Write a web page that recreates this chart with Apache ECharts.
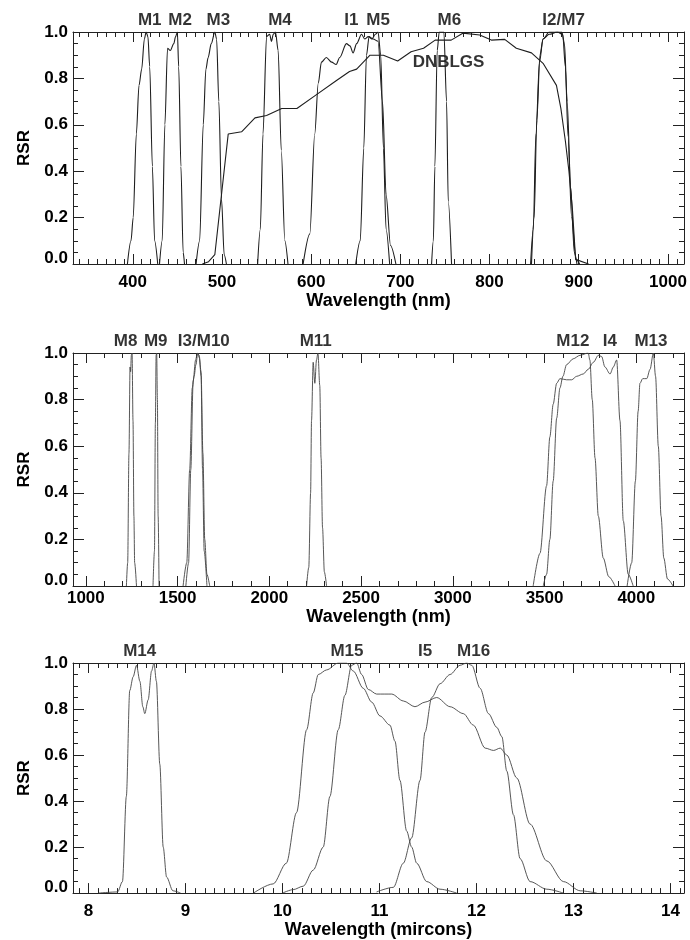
<!DOCTYPE html>
<html><head><meta charset="utf-8">
<script src="https://cdn.jsdelivr.net/npm/echarts@6/dist/echarts.min.js"></script>
<style>html,body{margin:0;padding:0;background:#fff}#c{width:690px;height:940px}</style>
</head><body><div id="c"></div>
<script>
// ---------- Panel 1 (nm) ----------
const P1_RANGE = [333, 1018];
const P1_TICKS = [400, 500, 600, 700, 800, 900, 1000];
const M1 = [[394,0],[398,0.1],[400.5,0.2],[404,0.56],[407,0.77],[410,0.84],[413,0.97],[415,1.0],[417,0.98],[419,0.85],[422,0.42],[424.5,0.1],[428,0]];
const M2 = [[430,0],[433,0.1],[436,0.6],[439,0.93],[442,0.92],[446,0.95],[448,0.98],[450,1.0],[451.5,0.85],[454,0.42],[456.5,0.05],[458,0]];
const M3 = [[471,0],[475,0.1],[479,0.6],[482,0.84],[484.5,0.89],[488,0.95],[492,1.0],[494,0.97],[496.5,0.7],[499.5,0.28],[502.5,0.04],[505,0]];
const M4 = [[540,0],[543,0.15],[546,0.56],[550,0.98],[553.5,0.99],[555.5,0.96],[557.5,0.99],[560,1.0],[563,0.92],[566.5,0.49],[570.5,0.1],[574,0]];
const I1 = [[591,0],[598.5,0.13],[604,0.56],[608,0.78],[611.5,0.87],[617,0.89],[623,0.87],[628,0.86],[632,0.89],[639.5,0.95],[643.5,0.94],[647,0.91],[651,0.95],[656.5,0.99],[660,0.97],[664,0.98],[669.5,0.97],[675,0.96],[680,0.7],[684,0.3],[689,0.08],[695,0]];
const M5 = [[650,0],[655,0.1],[659,0.5],[662,0.9],[665,0.98],[668,0.97],[672,0.99],[675,1.0],[678,0.9],[681,0.5],[684,0.15],[688,0]];
const M6 = [[735,0],[737,0.1],[738.7,0.42],[741.3,0.92],[743.6,1.0],[746,1.0],[748.8,1.0],[751.8,0.7],[753.7,0.27],[757.4,0]];
const I2 = [[846,0],[849,0.15],[852,0.56],[856,0.87],[860,0.97],[867,1.0],[875,1.0],[881,1.0],[884,0.95],[887,0.7],[891,0.33],[895,0.05],[898,0]];
const M7 = [[847,0],[850,0.2],[853,0.62],[856.5,0.9],[860,0.97],[867,0.99],[876,1.0],[882,0.99],[885,0.85],[888,0.55],[892,0.2],[897,0.02],[901,0]];
const DNB = [[478,0],[485,0.01],[492,0.04],[507,0.56],[522,0.57],[537,0.63],[550,0.64],[567,0.67],[584,0.67],[606,0.73],[628,0.79],[643,0.83],[651,0.84],[666,0.9],[681,0.9],[697,0.875],[712,0.915],[726,0.93],[739,0.965],[757,0.965],[770,0.995],[789,0.987],[802,0.965],[817,0.968],[830,0.93],[847,0.91],[860,0.865],[875,0.77],[880,0.67],[885,0.53],[889,0.4],[893,0.23],[896.5,0.02],[911,0]];
const P1_LABELS = ['M1','M2','M3','M4','I1','M5','M6','I2/M7'];
const P1_LABEL_X = [419, 453, 496, 565, 645, 675, 755, 883];
const DNB_LABEL = {name: 'DNBLGS', x: 754, y: 0.87};

// ---------- Panel 2 (nm) ----------
const P2_RANGE = [930, 4260];
const P2_TICKS = [1000, 1500, 2000, 2500, 3000, 3500, 4000];
const M8 = [[1221,0],[1228,0.1],[1235,0.57],[1241,0.94],[1244,0.92],[1248,0.99],[1252,1.0],[1257,0.71],[1262,0.3],[1266,0.1],[1276,0]];
const M9 = [[1366,0],[1374,0.15],[1379,0.7],[1383,0.99],[1386,1.0],[1390,0.8],[1394,0.3],[1399,0]];
const I3 = [[1530,0],[1550,0.1],[1566,0.5],[1580,0.85],[1590,0.9],[1600,0.95],[1610,1.0],[1618,0.98],[1628,0.92],[1638,0.57],[1648,0.2],[1660,0.05],[1675,0]];
const M10 = [[1545,0],[1560,0.1],[1572,0.5],[1585,0.88],[1598,0.97],[1608,1.0],[1618,0.99],[1628,0.9],[1636,0.5],[1645,0.15],[1660,0]];
const M11 = [[2203,0],[2215,0.08],[2225,0.4],[2230,0.71],[2239,0.96],[2248,0.87],[2257,0.97],[2265,1.0],[2275,0.86],[2282,0.55],[2290,0.25],[2300,0.06],[2312,0]];
const M12 = [[3493,0],[3511,0.05],[3529,0.2],[3547,0.45],[3566,0.72],[3584,0.85],[3600,0.9],[3620,0.95],[3656,0.975],[3693,0.99],[3738,1.0],[3747,0.97],[3760,0.8],[3775,0.55],[3793,0.3],[3820,0.12],[3850,0.04],[3884,0]];
const I4 = [[3438,0],[3475,0.14],[3511,0.43],[3529,0.64],[3547,0.78],[3566,0.87],[3584,0.89],[3620,0.885],[3648,0.885],[3675,0.9],[3711,0.91],[3738,0.93],[3766,0.96],[3793,0.99],[3811,0.985],[3829,0.94],[3857,0.91],[3875,0.94],[3893,0.97],[3911,0.71],[3929,0.28],[3956,0.05],[3983,0]];
const M13 = [[3950,0],[3975,0.1],[3995,0.45],[4010,0.75],[4020,0.87],[4035,0.89],[4057,0.89],[4075,0.93],[4093,1.0],[4105,0.9],[4120,0.6],[4135,0.3],[4150,0.12],[4170,0.03],[4200,0]];
const P2_LABELS = ['M8','M9','I3/M10','M11','M12','I4','M13'];
const P2_LABEL_X = [1217, 1381, 1643, 2253, 3654, 3856, 4080];

// ---------- Panel 3 (microns) ----------
const P3_RANGE = [7.84, 14.14];
const P3_TICKS = [8, 9, 10, 11, 12, 13, 14];
const M14 = [[8.1,0],[8.3,0.005],[8.35,0.05],[8.39,0.42],[8.425,0.88],[8.46,0.94],[8.495,0.99],[8.53,0.92],[8.56,0.81],[8.58,0.78],[8.615,0.84],[8.65,0.965],[8.675,1.0],[8.7,0.92],[8.735,0.56],[8.77,0.2],[8.805,0.07],[8.87,0.01],[8.95,0]];
const M15 = [[9.7,0],[9.904,0.04],[10.04,0.13],[10.145,0.35],[10.249,0.71],[10.317,0.87],[10.369,0.95],[10.455,0.97],[10.575,1.0],[10.661,1.0],[10.73,0.965],[10.833,0.89],[10.92,0.83],[11.005,0.77],[11.108,0.73],[11.16,0.66],[11.211,0.49],[11.28,0.27],[11.332,0.2],[11.384,0.13],[11.487,0.05],[11.624,0.017],[11.797,0]];
const I5 = [[10.0,0],[10.11,0.015],[10.214,0.03],[10.317,0.1],[10.42,0.2],[10.489,0.42],[10.575,0.71],[10.644,0.86],[10.713,0.99],[10.765,1.0],[10.816,0.95],[10.885,0.885],[10.971,0.865],[11.126,0.865],[11.246,0.835],[11.366,0.81],[11.47,0.83],[11.59,0.85],[11.728,0.81],[11.865,0.78],[11.968,0.73],[12.09,0.63],[12.176,0.62],[12.245,0.63],[12.313,0.6],[12.416,0.5],[12.553,0.3],[12.725,0.14],[12.897,0.05],[13.07,0.01],[13.242,0]];
const M16 = [[10.97,0.005],[11.143,0.025],[11.246,0.13],[11.332,0.24],[11.418,0.49],[11.47,0.7],[11.539,0.85],[11.625,0.91],[11.728,0.95],[11.831,0.99],[11.9,1.0],[11.952,0.99],[12.038,0.89],[12.124,0.78],[12.21,0.72],[12.262,0.68],[12.313,0.53],[12.382,0.34],[12.45,0.15],[12.553,0.05],[12.725,0.017],[12.897,0]];
const P3_LABELS = ['M14','M15','I5','M16'];
const P3_LABEL_X = [8.528, 10.665, 11.47, 11.97];

// ---------- Shared y ticks ----------
const Y_TICKS = [0, 0.2, 0.4, 0.6, 0.8, 1.0];
const Y_TICK_LABELS = ['0.0','0.2','0.4','0.6','0.8','1.0'];

// ---------- helpers (axis decoration only) ----------
const FONT = '"Liberation Sans", Arial, sans-serif';
const AX = '#222';
const TXT = '#000';
function steps(min, max, step, skip) {
  const out = [];
  const n0 = Math.ceil(min / step - 1e-9), n1 = Math.floor(max / step + 1e-9);
  for (let n = n0; n <= n1; n++) {
    const v = +(n * step).toFixed(6);
    if (!skip.some(s => Math.abs(s - v) < step * 1e-3)) out.push(v);
  }
  return out;
}
const labelFont = {fontFamily: FONT, fontWeight: 'bold', fontSize: 17, color: TXT};

const GRIDS = [
  {left: 73, width: 611, top: 32, height: 232},
  {left: 73, width: 611, top: 353, height: 233},
  {left: 73, width: 611, top: 663, height: 231}
];
const PANELS = [
  {range: P1_RANGE, ticks: P1_TICKS, minorStep: 10, name: 'Wavelength (nm)', nameGap: 26, labelMargin: 10},
  {range: P2_RANGE, ticks: P2_TICKS, minorStep: 100, name: 'Wavelength (nm)', nameGap: 19, labelMargin: 4},
  {range: P3_RANGE, ticks: P3_TICKS, minorStep: 0.1, name: 'Wavelength (mircons)', nameGap: 26, labelMargin: 10}
];

const xAxis = [], yAxis = [];
PANELS.forEach((p, g) => {
  const minors = steps(p.range[0], p.range[1], p.minorStep, p.ticks);
  const base = {gridIndex: g, type: 'value', min: p.range[0], max: p.range[1], splitLine: {show: false}};
  const line = {show: true, onZero: false, lineStyle: {color: AX, width: 1}};
  xAxis.push(
    {...base, position: 'bottom', axisLine: line,
     axisTick: {show: true, inside: true, length: 10, customValues: p.ticks, lineStyle: {color: AX}},
     axisLabel: {show: true, customValues: p.ticks, margin: p.labelMargin, formatter: v => String(v), ...labelFont},
     name: p.name, nameLocation: 'middle', nameGap: p.nameGap,
     nameTextStyle: {fontFamily: FONT, fontWeight: 'bold', fontSize: 18, color: TXT}},
    {...base, position: 'bottom', axisLine: {show: false, onZero: false},
     axisTick: {show: true, inside: true, length: 5, customValues: minors, lineStyle: {color: AX}},
     axisLabel: {show: false}},
    {...base, position: 'top', axisLine: line,
     axisTick: {show: true, inside: true, length: 10, customValues: p.ticks, lineStyle: {color: AX}},
     axisLabel: {show: false}},
    {...base, position: 'top', axisLine: {show: false, onZero: false},
     axisTick: {show: true, inside: true, length: 5, customValues: minors, lineStyle: {color: AX}},
     axisLabel: {show: false}}
  );
  const yMinors = steps(0, 1, 0.05, Y_TICKS);
  const ybase = {gridIndex: g, type: 'value', min: 0, max: 1, splitLine: {show: false}};
  yAxis.push(
    {...ybase, position: 'left', axisLine: line,
     axisTick: {show: true, inside: true, length: 11, customValues: Y_TICKS, lineStyle: {color: AX}},
     axisLabel: {show: true, customValues: Y_TICKS, margin: 5,
       formatter: v => { const s = Y_TICK_LABELS[Y_TICKS.findIndex(t => Math.abs(t - v) < 1e-6)]; return v === 0 ? '{z|' + s + '}' : s; },
       rich: {z: {...labelFont, padding: [0, 0, 12, 0]}}, ...labelFont},
     name: 'RSR', nameLocation: 'middle', nameRotate: 90, nameGap: 40,
     nameTextStyle: {fontFamily: FONT, fontWeight: 'bold', fontSize: 17, color: TXT}},
    {...ybase, position: 'left', axisLine: {show: false, onZero: false},
     axisTick: {show: true, inside: true, length: 5, customValues: yMinors, lineStyle: {color: AX}},
     axisLabel: {show: false}},
    {...ybase, position: 'right', axisLine: line,
     axisTick: {show: true, inside: true, length: 11, customValues: Y_TICKS, lineStyle: {color: AX}},
     axisLabel: {show: false}},
    {...ybase, position: 'right', axisLine: {show: false, onZero: false},
     axisTick: {show: true, inside: true, length: 5, customValues: yMinors, lineStyle: {color: AX}},
     axisLabel: {show: false}}
  );
});

function band(data, g, smooth, color, width) {
  return {type: 'line', xAxisIndex: g * 4, yAxisIndex: g * 4, data: data, showSymbol: false, symbol: 'none',
    smooth: smooth, smoothMonotone: 'x', clip: true, silent: true,
    lineStyle: {color: color, width: width}};
}
function labels(names, xs, g) {
  return {type: 'scatter', xAxisIndex: g * 4, yAxisIndex: g * 4, symbolSize: 1, clip: false, silent: true,
    itemStyle: {color: 'rgba(0,0,0,0)'},
    data: names.map((n, i) => ({name: n, value: [xs[i], 1.0]})),
    label: {show: true, position: 'top', distance: 3, formatter: '{b}', ...labelFont}};
}

const C1 = '#1e1e1e', C2 = '#444';
const series = [
  ...[M1, M2, M3, M4, I1, M5, M6, I2, M7].map(d => band(d, 0, 0.3, C1, 1.1)),
  band(DNB, 0, false, C1, 1.1),
  labels(P1_LABELS, P1_LABEL_X, 0),
  {type: 'scatter', xAxisIndex: 0, yAxisIndex: 0, symbolSize: 1, silent: true, itemStyle: {color: 'rgba(0,0,0,0)'},
   data: [{name: DNB_LABEL.name, value: [DNB_LABEL.x, DNB_LABEL.y]}],
   label: {show: true, position: 'inside', formatter: '{b}', ...labelFont}},
  ...[M8, M9, I3, M10, M11, M12, I4, M13].map(d => band(d, 1, 0.3, C2, 0.9)),
  labels(P2_LABELS, P2_LABEL_X, 1),
  ...[M14, M15, I5, M16].map(d => band(d, 2, 0.3, C2, 0.9)),
  labels(P3_LABELS, P3_LABEL_X, 2)
];

const chart = echarts.init(document.getElementById('c'), null, {renderer: 'canvas'});
chart.setOption({
  animation: false,
  backgroundColor: '#fff',
  grid: GRIDS,
  xAxis: xAxis,
  yAxis: yAxis,
  series: series
});
</script></body></html>
